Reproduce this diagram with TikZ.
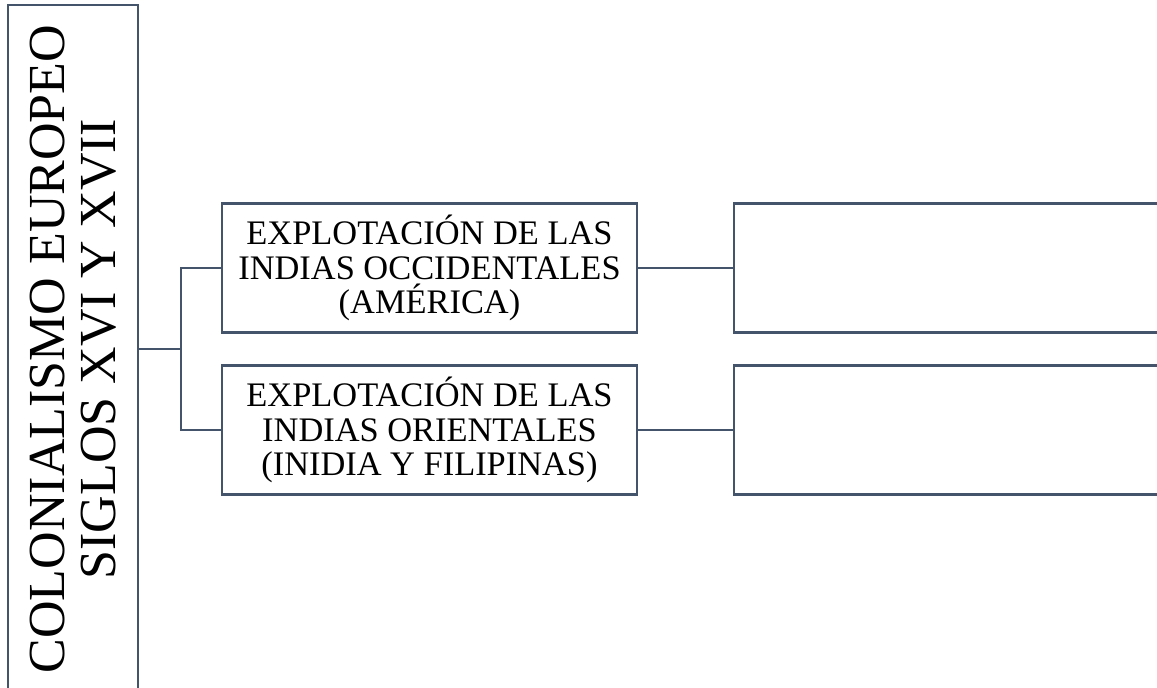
\documentclass[tikz,border=0pt]{standalone}
\usepackage{fontspec}
\setmainfont{Liberation Serif}
\usepackage{tikz}
\usetikzlibrary{positioning, calc}
\definecolor{slate}{HTML}{44546A}

\begin{document}
\begin{tikzpicture}[x=0.75pt, y=-0.75pt, line width=1.8pt,
    box/.style={draw=slate, fill=white, shape=rectangle, align=center, inner sep=2pt,
      minimum width=311pt, minimum height=97pt, font=\fontsize{25.8}{26}\selectfont},
    blank/.style={draw=slate, fill=white, shape=rectangle, minimum width=330pt, minimum height=97pt},
    link/.style={draw=slate, line width=1.8pt}]
  \useasboundingbox (0,0) rectangle (1157,687);
  \node[draw=slate, rotate=90, align=center, inner sep=0pt, minimum width=516pt, minimum height=97.5pt,
        font=\fontsize{39}{38}\selectfont] (colo) at (73,349) {COLONIALISMO EUROPEO\\SIGLOS XVI Y XVII};
  \node[box] (occ) at (429.5,268) {EXPLOTACIÓN DE LAS\\INDIAS OCCIDENTALES\\(AMÉRICA)};
  \node[box] (ori) at (429.5,430) {EXPLOTACIÓN DE LAS\\INDIAS ORIENTALES\\(INIDIA Y FILIPINAS)};
  \node[blank, anchor=west] (occR) at (733,268) {};
  \node[blank, anchor=west] (oriR) at (733,430) {};
  \coordinate (fork) at ($(colo.south)+(42,0)$);
  \path[link]
    (colo.south) edge (fork)
    (fork) edge[-, to path={|- (\tikztotarget)}] (occ.west)
    (fork) edge[-, to path={|- (\tikztotarget)}] (ori.west)
    (occ.east) edge (occR.west)
    (ori.east) edge (oriR.west);
\end{tikzpicture}
\end{document}
